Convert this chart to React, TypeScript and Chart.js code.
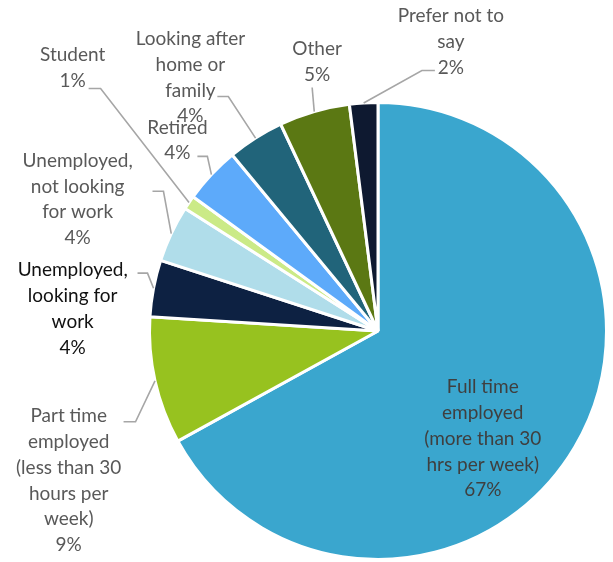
import React, { useEffect, useRef } from "react";
import { Chart, registerables } from "chart.js";

Chart.register(...registerables);

const categories: string[] = [
  "Full time employed (more than 30 hrs per week)",
  "Part time employed (less than 30 hours per week)",
  "Unemployed, looking for work",
  "Unemployed, not looking for work",
  "Student",
  "Retired",
  "Looking after home or family",
  "Other",
  "Prefer not to say",
];

const percentValues: number[] = [67, 9, 4, 4, 1, 4, 4, 5, 2];

const labelLines: string[][] = [
  ["Full time", "employed", "(more than 30", "hrs per week)"],
  ["Part time", "employed", "(less than 30", "hours per", "week)"],
  ["Unemployed,", "looking for", "work"],
  ["Unemployed,", "not looking", "for work"],
  ["Student"],
  ["Retired"],
  ["Looking after", "home or", "family"],
  ["Other"],
  ["Prefer not to", "say"],
];

const sliceColors: string[] = [
  "#3AA6CE",
  "#97C21F",
  "#0D2142",
  "#B0DDEA",
  "#CBEA87",
  "#5DAAFA",
  "#21647A",
  "#5B7813",
  "#0E1930",
];

const labelColors: string[] = [
  "#3F3F3F",
  "#595959",
  "#111111",
  "#595959",
  "#595959",
  "#595959",
  "#595959",
  "#595959",
  "#595959",
];

// label layout relative to the pie centre, in pixels at radius 229
const labelLayout: { c: [number, number]; leader: [number, number, number, number] | null }[] = [
  { c: [105, 108], leader: null },
  { c: [-310, 150], leader: [-243, 91, -255, 91] },
  { c: [-306, -22], leader: [-231, -58, -241, -58] },
  { c: [-301, -132], leader: [-215, -140, -226, -140] },
  { c: [-306, -264], leader: [-278, -243, -290, -243] },
  { c: [-201, -191], leader: [-171, -175, -181, -175] },
  { c: [-188, -254], leader: [-150, -235, -161, -235] },
  { c: [-61, -270], leader: [-66, -244, -66, -244] },
  { c: [73, -290], leader: [44, -261, 57, -261] },
];

const FONT = '19px Lato, "Open Sans", sans-serif';
const LINE_H = 25.8;

const labelPlugin = {
  id: "pieLabels",
  afterDatasetsDraw(chart: any) {
    const ctx = chart.ctx;
    const meta = chart.getDatasetMeta(0);
    ctx.save();
    meta.data.forEach((arc: any, i: number) => {
      const p = arc.getProps(["x", "y", "startAngle", "endAngle", "outerRadius"], true);
      const s = p.outerRadius / 229;
      const mid = (p.startAngle + p.endAngle) / 2;
      const lay = labelLayout[i];
      if (lay.leader) {
        const ex = p.x + Math.cos(mid) * p.outerRadius;
        const ey = p.y + Math.sin(mid) * p.outerRadius;
        ctx.beginPath();
        ctx.strokeStyle = "#A6A6A6";
        ctx.lineWidth = 1.6;
        ctx.moveTo(ex, ey);
        ctx.lineTo(p.x + lay.leader[0] * s, p.y + lay.leader[1] * s);
        ctx.lineTo(p.x + lay.leader[2] * s, p.y + lay.leader[3] * s);
        ctx.stroke();
      }
      const lines = [...labelLines[i], `${percentValues[i]}%`];
      const cx = p.x + lay.c[0] * s;
      const cy = p.y + lay.c[1] * s;
      ctx.font = FONT;
      ctx.fillStyle = labelColors[i];
      ctx.textAlign = "center";
      ctx.textBaseline = "middle";
      const top = cy - ((lines.length - 1) * LINE_H) / 2;
      lines.forEach((t, k) => ctx.fillText(t, cx, top + k * LINE_H));
    });
    ctx.restore();
  },
};

export default function App() {
  const ref = useRef<HTMLCanvasElement | null>(null);
  useEffect(() => {
    if (!ref.current) return;
    const chart = new Chart(ref.current, {
      type: "pie",
      data: {
        labels: categories,
        datasets: [
          {
            data: percentValues,
            backgroundColor: sliceColors,
            borderColor: "#FFFFFF",
            borderWidth: 3,
            hoverOffset: 0,
            offset: 0,
          },
        ],
      },
      options: {
        responsive: false,
        animation: false,
        events: [],
        layout: { padding: { left: 148, right: 5, top: 101, bottom: 1 } },
        plugins: { legend: { display: false }, tooltip: { enabled: false } },
      },
      plugins: [labelPlugin],
    });
    return () => chart.destroy();
  }, []);
  return (
    <div style={{ position: "fixed", left: 0, top: 0, width: 613, height: 562, background: "#fff" }}>
      <canvas ref={ref} width={613} height={562} style={{ display: "block" }} />
    </div>
  );
}
